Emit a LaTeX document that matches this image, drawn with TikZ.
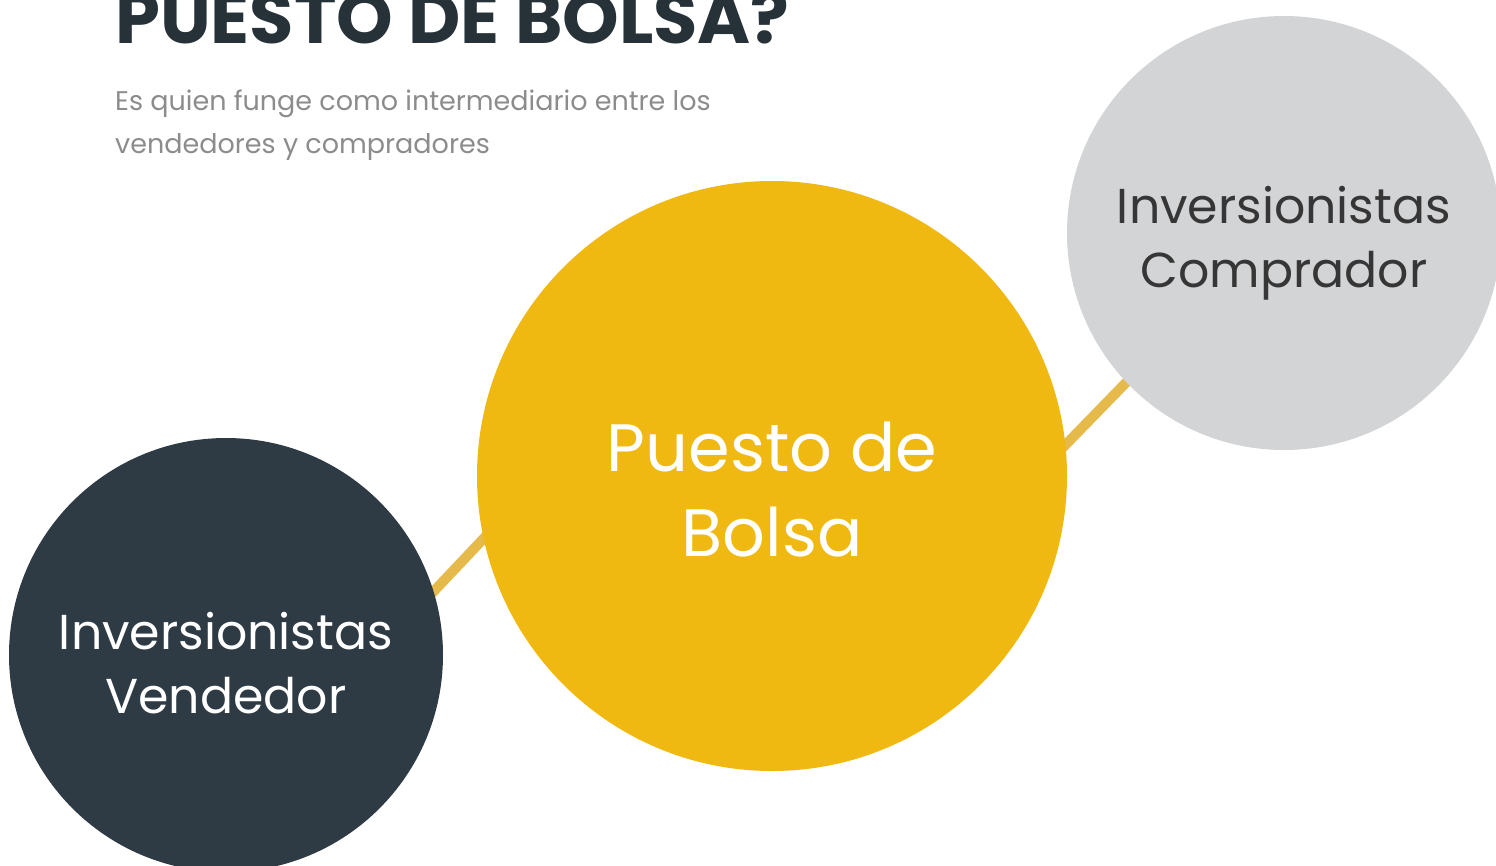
\documentclass[tikz,border=0pt]{standalone}
\usepackage{fontspec}
\setmainfont{Poppins}
\usetikzlibrary{positioning}
\definecolor{slate}{HTML}{2E3B44}
\definecolor{titleink}{HTML}{263238}
\definecolor{gold}{HTML}{F0B912}
\definecolor{goldline}{HTML}{E6B94B}
\definecolor{mist}{HTML}{D3D4D6}
\definecolor{subgray}{HTML}{8C8C8C}
\definecolor{darkink}{HTML}{363636}
\tikzset{
    party/.style={
        circle,
        minimum size=434pt,
        inner sep=0pt,
        align=center,
        font=\fontsize{49}{64}\selectfont,
    },
    broker/.style={
        circle,
        fill=gold,
        minimum size=590pt,
        inner sep=0pt,
        align=center,
        text=white,
        font=\fontsize{67}{85}\selectfont,
    },
    link/.style={
        draw=goldline,
        line width=10pt,
    },
    subline/.style={
        anchor=base west,
        inner sep=0pt,
        text=subgray,
        font=\fontsize{27}{43}\selectfont,
    },
}
\begin{document}
\begin{tikzpicture}[x=1pt,y=-1pt]
    \useasboundingbox (0,0) rectangle (1496,865);
    \clip (0,0) rectangle (1496,865);

    % links behind the circles
    \coordinate (low-a) at (400,627);
    \coordinate (low-b) at (520,500);
    \coordinate (up-a) at (1040,471);
    \coordinate (up-b) at (1150,358);
    \draw [link] (low-a) -- (low-b);
    \draw [link] (up-a) -- (up-b);

    \node [broker] (puesto) at (772,476) {};
    \node [party,fill=slate] (vendedor) at (226,655) {};
    \node [party,fill=mist] (comprador) at (1284,233) {};

    \node [align=center,text=white,font=\fontsize{67}{85}\selectfont] (puesto-txt) at ([yshift=-14pt]puesto.center) {Puesto de\\Bolsa};
    \node [align=center,text=white,font=\fontsize{49}{64}\selectfont] (vendedor-txt) at ([yshift=-8pt]vendedor.center) {Inversionistas\\Vendedor};
    \node [align=center,text=darkink,font=\fontsize{49}{64}\selectfont] (comprador-txt) at ([yshift=-10pt]comprador.center) {Inversionistas\\Comprador};

    \node [anchor=base west,inner sep=0pt,text=titleink,font=\fontsize{72}{78}\selectfont\bfseries] (title) at (115,43) {PUESTO DE BOLSA?};
    \node [subline] (sub-1) at (115,110) {Es quien funge como intermediario entre los};
    \node [subline] (sub-2) at (115,153) {vendedores y compradores};
\end{tikzpicture}
\end{document}
